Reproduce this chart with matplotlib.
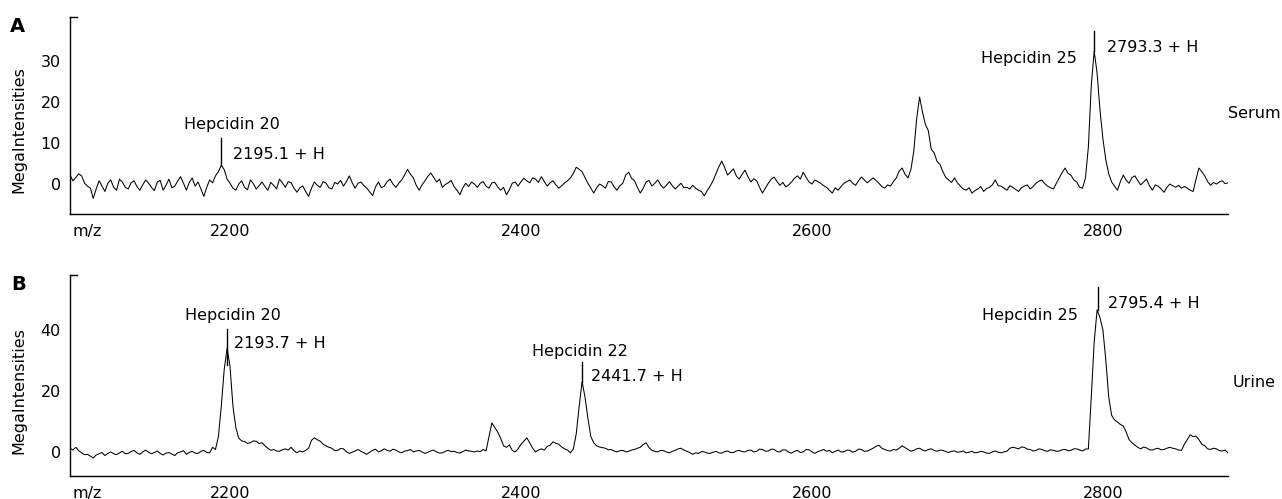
import numpy as np
import matplotlib
matplotlib.use("Agg")
import matplotlib.pyplot as plt

# m/z sampling grid of the traces (read every 2 units off the picture)
mz = np.arange(2090, 2887, 2)

serum = [
    2.2, 0.8, 1.6, 2.5, 2.0, 0.2, -0.5, -1.0, -3.5, -1.2, 0.8, -0.5, -1.8, 0.2, 1.0, -0.8, -1.5, 1.2, 0.5, -0.8,
    -1.2, 0.3, 0.8, -0.6, -1.5, -0.2, 1.0, 0.2, -0.8, -1.6, 0.5, 0.9, -1.5, -0.3, 1.2, -0.9, -0.5, 0.7, 1.8, 0.2,
    -1.5, 0.4, 1.5, -0.5, 0.5, -1.2, -3.0, -0.8, 1.0, 0.3, 2.0, 3.0, 4.6, 3.5, 1.2, 0.2, -1.0, -1.5, 0.0, 0.8,
    -0.8, -1.4, 1.0, 0.1, -1.2, -0.4, 0.5, -0.6, -1.5, 0.4, -0.3, -1.2, 1.2, 0.3, -0.8, 0.6, 0.3, -1.0, -2.0, -0.9,
    -0.5, -1.8, -3.0, -1.0, 0.5, -0.3, -0.8, 0.6, 0.2, -0.9, -1.2, 0.4, 0.0, 0.9, -0.5, 0.6, 2.0, 0.3, -1.0, 0.2,
    0.5, -0.4, -1.0, -1.9, -2.8, -0.7, 0.5, -0.9, -0.5, 0.6, 1.2, 0.0, -0.8, 0.2, 1.0, 2.2, 3.6, 2.4, 1.5, -0.3,
    -1.5, -0.2, 0.8, 1.9, 2.7, 1.6, 0.5, 1.2, -0.8, -0.1, 0.3, 0.9, -0.6, -1.5, -2.6, -0.9, 0.2, -0.6, 0.5, 0.0,
    -0.8, 0.2, 0.6, -0.5, -1.0, 0.3, 0.4, -0.7, -1.5, -0.8, -2.6, -1.4, 0.2, 0.5, -0.5, 0.6, 1.4, 0.8, 0.3, 1.5,
    1.2, 0.4, 1.8, 0.6, -0.5, 0.3, 0.8, -0.2, -1.0, -0.4, 0.3, 0.8, 1.5, 2.6, 4.1, 3.6, 3.0, 1.6, 0.2, -1.0,
    -2.2, -0.9, 0.0, -0.4, -1.0, 0.6, 0.5, -0.7, -1.5, -0.4, 0.2, 2.2, 2.9, 1.4, 0.8, -0.8, -2.2, -1.0, 0.5, 0.9,
    -0.5, 0.2, 1.0, -0.2, -1.0, -0.3, 0.6, -0.4, -1.2, -0.5, 0.2, -0.9, -0.8, -1.2, -0.3, -1.0, -1.5, -1.8, -2.9, -1.6,
    -0.5, 0.8, 2.5, 4.2, 5.6, 4.0, 2.2, 2.9, 3.7, 2.0, 1.2, 2.4, 3.4, 1.8, 0.5, 1.3, 0.8, -0.8, -2.2, -1.0,
    0.2, 1.2, 1.7, 0.6, -0.3, 0.4, -0.7, -0.2, 0.5, 1.4, 2.0, 1.2, 2.9, 1.6, 0.5, 0.0, 1.0, 0.6, 0.2, -0.4,
    -0.8, -1.5, -2.2, -0.9, -1.5, -0.6, 0.2, 0.6, 1.0, 0.2, -0.3, 0.8, 1.7, 1.0, 0.3, 0.9, 1.5, 0.9, 0.2, -0.6,
    -1.0, -0.2, -0.5, 0.6, 1.5, 3.2, 3.9, 2.4, 1.5, 3.5, 8.0, 16.0, 21.2, 17.5, 14.5, 13.0, 8.5, 7.6, 5.5, 4.8,
    3.0, 1.6, 1.0, 0.4, 1.5, 0.3, -0.5, -1.2, -1.5, -0.9, -2.2, -1.6, -1.2, -0.6, -1.8, -1.1, -0.8, -0.2, 1.0, -0.4,
    -0.5, -1.0, -1.5, -0.4, -0.8, -1.3, -1.8, -0.9, -0.5, -0.2, -1.2, -0.6, 0.2, 0.7, 1.0, 0.1, -0.5, -0.9, -1.2, 0.2,
    1.5, 2.8, 3.9, 2.6, 2.2, 1.0, 0.5, -0.8, -1.0, 1.5, 9.0, 24.0, 32.4, 27.0, 18.0, 11.0, 5.9, 2.5, 0.5, -0.5,
    -1.5, 0.6, 2.2, 0.9, 0.2, 1.6, 2.0, 0.8, -0.2, 0.5, 1.2, -0.4, -1.5, -0.2, -0.5, -1.2, -2.0, -0.8, 0.0, -0.4,
    -0.8, -0.3, -1.0, -0.6, -1.0, -1.5, -1.8, 1.2, 3.9, 3.0, 2.0, 0.6, -0.3, 0.4, 0.0, 0.5, 0.8, 0.1, 0.3,
]

urine = [
    1.2, 0.6, 1.5, 0.4, -0.3, -0.9, -0.8, -1.4, -2.0, -1.0, -0.6, -0.2, -1.2, -0.5, 0.0, -0.6, -0.9, -0.3, 0.2, -0.6,
    -0.5, 0.1, 0.5, -0.3, -0.8, 0.0, 0.6, -0.1, -0.6, -0.2, 0.3, -0.5, -1.0, -0.4, -0.2, -0.7, -1.2, -0.3, 0.0, 0.4,
    -0.8, -0.2, 0.2, -0.4, -0.5, 0.2, 0.5, -0.2, -0.3, 1.5, 0.8, 5.0, 15.0, 27.0, 34.0, 28.0, 15.0, 8.0, 4.5, 3.6,
    3.4, 2.8, 3.0, 3.6, 3.5, 2.7, 3.0, 2.0, 1.2, 0.5, 0.8, 0.3, 0.2, 0.7, 1.0, 0.6, 1.5, 0.4, -0.3, 0.3,
    0.0, 0.5, 1.2, 3.8, 4.6, 4.0, 3.5, 2.5, 2.0, 1.5, 1.2, 0.4, 0.5, 1.1, 1.0, 0.0, -0.5, -0.1, 0.3, 0.8,
    0.2, -0.3, -0.8, -0.1, 0.5, 0.9, 0.0, 0.4, 1.0, 0.5, 0.2, 0.9, 0.6, 0.0, -0.3, 0.3, 0.4, 0.8, 0.0, 0.3,
    0.5, 0.0, -0.5, -0.1, 0.3, 0.6, 0.0, -0.4, -0.3, 0.2, 0.5, 0.1, 0.2, -0.2, -0.4, 0.1, 0.6, 0.3, 0.2, 0.0,
    0.3, 0.1, 0.8, 0.3, 5.0, 9.5, 8.0, 6.5, 4.5, 2.0, 1.5, 2.3, 0.5, 0.0, 1.0, 2.5, 3.5, 4.6, 3.0, 1.2,
    0.0, 0.6, 1.0, 0.6, 1.8, 2.2, 3.3, 2.8, 2.5, 1.6, 1.0, 0.6, -0.3, 1.0, 6.0, 15.0, 23.0, 18.0, 11.0, 5.0,
    3.0, 2.0, 1.6, 1.4, 1.2, 0.7, 0.8, 0.3, 0.0, 0.4, 0.5, 0.0, 0.2, 0.6, 0.8, 1.2, 1.5, 2.4, 3.0, 1.4,
    0.5, 0.2, 0.0, 0.5, 0.4, 0.0, -0.3, 0.2, 0.5, 1.0, 1.2, 0.6, 0.2, -0.2, -0.8, -0.3, -0.5, 0.1, 0.0, -0.4,
    -0.5, -0.1, 0.2, -0.3, -0.4, 0.1, 0.3, -0.2, -0.2, 0.3, 0.5, 0.1, 0.0, 0.5, 0.6, 0.0, 0.2, 0.9, 0.8, 0.2,
    0.3, 0.9, 0.8, 0.1, 0.0, 0.7, 0.6, -0.1, -0.4, 0.2, 0.5, -0.2, 0.0, 0.8, 0.7, 0.0, -0.5, 0.1, 0.4, 0.8,
    0.2, 0.5, -0.3, 0.2, 0.6, 0.0, 0.0, 0.6, 0.5, -0.1, 0.2, 0.9, 0.8, 0.2, 0.3, 0.7, 1.2, 1.8, 2.2, 1.2,
    0.8, 0.4, 0.3, 0.8, 0.6, 1.2, 2.0, 1.4, 0.8, 0.2, 0.5, 1.0, 1.2, 0.6, 0.3, 0.8, 1.0, 0.5, 0.2, 0.6,
    0.5, 0.1, -0.2, 0.2, 0.3, -0.1, 0.0, 0.3, -0.3, -0.1, 0.2, -0.3, -0.2, 0.2, 0.0, -0.4, -0.5, 0.0, 0.3, -0.1,
    -0.3, 0.0, 0.2, 1.2, 1.5, 1.3, 1.0, 1.6, 1.5, 0.9, 0.8, 0.3, 0.5, 1.0, 0.8, 0.4, 0.2, 0.7, 0.5, 0.2,
    0.3, 0.7, 0.8, 0.4, 0.5, 1.0, 1.0, 0.6, 0.3, 0.9, 1.0, 18.0, 36.0, 46.6, 44.0, 40.0, 30.0, 18.0, 12.0, 10.5,
    9.8, 9.0, 8.5, 6.5, 4.0, 3.0, 2.2, 1.5, 1.0, 1.6, 1.3, 0.7, 0.6, 1.0, 1.2, 0.7, 0.8, 1.2, 1.5, 1.2,
    1.0, 0.6, 0.5, 2.5, 4.0, 5.6, 5.0, 5.2, 4.0, 2.5, 2.0, 1.0, 0.8, 1.2, 1.0, 0.4, 0.3, 0.6, -0.3,
]

xticks = [2200, 2400, 2600, 2800]
serum_yticks = [0, 10, 20, 30]
urine_yticks = [0, 20, 40]

plt.rcParams["font.family"] = "DejaVu Sans"
FS = 11.5

fig = plt.figure(figsize=(12.82, 4.99), dpi=100)
axA = fig.add_axes([0.0546, 0.5711, 0.9033, 0.3948])
axB = fig.add_axes([0.0546, 0.0461, 0.9033, 0.4028])


def setup(ax, values, ylim, yticks):
    ax.plot(mz, values, color="black", lw=0.75)
    ax.set_xlim(mz[0], mz[-1])
    ax.set_ylim(*ylim)
    ax.set_xticks(xticks)
    ax.set_yticks(yticks)
    ax.tick_params(axis="both", length=0, labelsize=FS)
    ax.tick_params(axis="y", pad=6.5)
    ax.tick_params(axis="x", pad=7)
    for s in ["top", "right"]:
        ax.spines[s].set_visible(False)
    for s in ["left", "bottom"]:
        ax.spines[s].set_linewidth(1.0)
    ax.set_ylabel("MegaIntensities", fontsize=FS)
    ax.yaxis.set_label_coords(-0.038, 0.427)
    # little mark closing the top of the y axis
    ax.plot([0, 0.006], [1, 1], transform=ax.transAxes, color="black",
            lw=1.0, clip_on=False)
    ax.annotate("m/z", xy=(0, 0), xycoords="axes fraction",
                xytext=(3, -10), textcoords="offset pixels",
                ha="left", va="top", fontsize=FS)


setup(axA, serum, (-7.3, 40.7), serum_yticks)
setup(axB, urine, (-7.9, 58), urine_yticks)

# panel A annotations
axA.plot([2194, 2194], [4.6, 11.2], color="black", lw=1.0)
axA.text(2201, 14.4, "Hepcidin 20", ha="center", va="center", fontsize=FS)
axA.text(2202, 7.3, "2195.1 + H", ha="left", va="center", fontsize=FS)
axA.plot([2794, 2794], [32.4, 37.3], color="black", lw=1.0)
axA.text(2782, 30.5, "Hepcidin 25", ha="right", va="center", fontsize=FS)
axA.text(2803, 33.2, "2793.3 + H", ha="left", va="center", fontsize=FS)
axA.text(2886, 17.1, "Serum", ha="left", va="center", fontsize=FS, clip_on=False)

# panel B annotations
axB.plot([2198, 2198], [28.5, 40.3], color="black", lw=1.0)
axB.text(2202, 44.6, "Hepcidin 20", ha="center", va="center", fontsize=FS)
axB.text(2203, 35.7, "2193.7 + H", ha="left", va="center", fontsize=FS)
axB.plot([2442, 2442], [23.0, 29.5], color="black", lw=1.0)
axB.text(2440.5, 32.8, "Hepcidin 22", ha="center", va="center", fontsize=FS)
axB.text(2448, 24.6, "2441.7 + H", ha="left", va="center", fontsize=FS)
axB.plot([2796.5, 2796.5], [46.6, 54.1], color="black", lw=1.0)
axB.text(2783, 44.6, "Hepcidin 25", ha="right", va="center", fontsize=FS)
axB.text(2803.5, 48.5, "2795.4 + H", ha="left", va="center", fontsize=FS)
axB.text(2889, 22.6, "Urine", ha="left", va="center", fontsize=FS, clip_on=False)

fig.text(10 / 1282, 1 - 27 / 499, "A", fontsize=14, fontweight="bold", va="center")
fig.text(11 / 1282, 1 - 284 / 499, "B", fontsize=14, fontweight="bold", va="center")

fig.savefig("out.png", dpi=100)
